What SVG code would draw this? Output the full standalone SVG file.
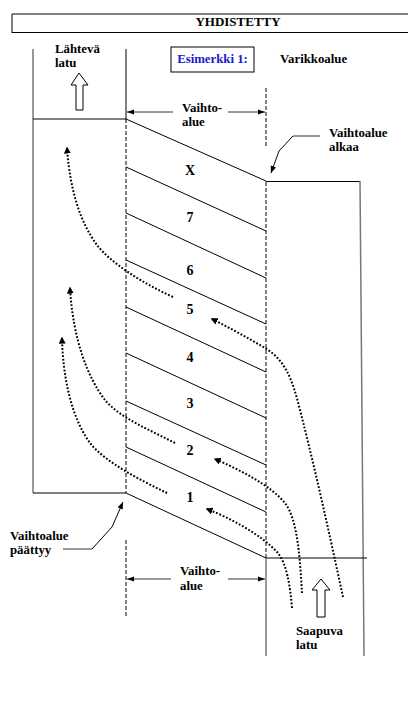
<svg xmlns="http://www.w3.org/2000/svg" width="408" height="714" viewBox="0 0 408 714">
<defs>
<style>
text{font-family:"Liberation Serif","Times New Roman",serif;font-weight:bold;fill:#000;}
.lbl{font-size:12.8px;}
.num{font-size:14px;text-anchor:middle;}
.ln{stroke:#000;stroke-width:1;fill:none;}
.gray{stroke:#777;stroke-width:1.5;fill:none;}
.dash{stroke:#000;stroke-width:1;stroke-dasharray:4 2;fill:none;}
.dot{stroke:#000;stroke-width:2;stroke-dasharray:1.8 1.8;fill:none;marker-end:url(#ah);}
.dim{stroke:#000;stroke-width:0.8;fill:none;}
.open{fill:#fff;stroke:#000;stroke-width:1;}
</style>
<marker id="ah" viewBox="0 0 10 10" refX="8" refY="5" markerWidth="3.5" markerHeight="3.5" orient="auto" markerUnits="strokeWidth">
<path d="M0,0 L10,5 L0,10 Z" fill="#000"/>
</marker>
<marker id="dh" viewBox="0 0 10 10" refX="10" refY="5" markerWidth="8" markerHeight="7" orient="auto" markerUnits="userSpaceOnUse">
<path d="M0,1.5 L10,5 L0,8.5 Z" fill="#000"/>
</marker>
<marker id="lh" viewBox="0 0 10 10" refX="10" refY="5" markerWidth="8" markerHeight="7" orient="auto" markerUnits="userSpaceOnUse">
<path d="M0,1 L10,5 L0,9 Z" fill="#000"/>
</marker>
</defs>

<g id="header">
<path class="ln" d="M12,14 H408"/>
<path class="ln" d="M12,32.5 H408" stroke-width="1.5"/>
<path class="ln" d="M12,14 V33"/>
<text x="238" y="26" font-size="13" text-anchor="middle">YHDISTETTY</text>
</g>

<g id="lahteva-latu">
<path class="gray" d="M33,49 V493"/>
<path class="ln" d="M126,49 V119"/>
<path class="ln" d="M33,119 H126"/>
<path class="ln" d="M33,493 H126"/>
<text class="lbl" x="55" y="53">Lähtevä</text>
<text class="lbl" x="55" y="67">latu</text>
<polygon class="open" points="79,73 88,85 83,85 83,110 76,110 76,85 71,85"/>
</g>

<g id="esimerkki">
<rect x="171" y="47" width="83" height="25" fill="none" stroke="#000" stroke-width="1"/>
<text x="212.5" y="63" font-size="12.8" text-anchor="middle" style="fill:#1a1ad0">Esimerkki 1:</text>
</g>

<g id="varikkoalue">
<text class="lbl" x="280" y="63">Varikkoalue</text>
</g>

<g id="vaihtoalue-borders">
<path class="dash" d="M126,119 V493"/>
<path class="dash" d="M126,540 V618"/>
<path class="dash" d="M266,88 V148"/>
<path class="dash" d="M266,182 V558"/>
</g>

<g id="saapuva-latu">
<path class="ln" d="M266,181.5 H360"/>
<path class="gray" d="M360,181 L364,656"/>
<path class="ln" d="M266,558 H367"/>
<path class="gray" d="M266,558 V656"/>
<polygon class="open" points="321,579 330,590 325,590 325,617 317,617 317,590 312,590"/>
<text class="lbl" x="296" y="635">Saapuva</text>
<text class="lbl" x="296" y="649">latu</text>
</g>

<g id="stalls">
<path class="ln" d="M126,119 L266,181"/>
<path class="ln" d="M126,167 L266,231"/>
<path class="ln" d="M126,213 L266,278"/>
<path class="ln" d="M126,260 L266,324"/>
<path class="ln" d="M126,307 L266,372"/>
<path class="ln" d="M126,353 L266,418"/>
<path class="ln" d="M126,401 L266,465"/>
<path class="ln" d="M126,447 L266,512"/>
<path class="ln" d="M126,493 L266,558"/>
</g>
<g id="stall-X"><text class="num" x="190" y="175">X</text></g>
<g id="stall-7"><text class="num" x="190" y="222">7</text></g>
<g id="stall-6"><text class="num" x="190" y="275">6</text></g>
<g id="stall-5"><text class="num" x="190" y="314">5</text></g>
<g id="stall-4"><text class="num" x="190" y="362">4</text></g>
<g id="stall-3"><text class="num" x="190" y="408">3</text></g>
<g id="stall-2"><text class="num" x="190" y="455">2</text></g>
<g id="stall-1"><text class="num" x="190" y="502">1</text></g>

<g id="dim-top">
<path class="dim" d="M173,112 H127" marker-end="url(#dh)"/>
<path class="dim" d="M228,112 H265" marker-end="url(#dh)"/>
<text class="lbl" x="182" y="112">Vaihto-</text>
<text class="lbl" x="182" y="126">alue</text>
</g>

<g id="dim-bottom">
<path class="dim" d="M171,579 H127" marker-end="url(#dh)"/>
<path class="dim" d="M228,579 H265" marker-end="url(#dh)"/>
<text class="lbl" x="180" y="575">Vaihto-</text>
<text class="lbl" x="180" y="590">alue</text>
</g>

<g id="vaihtoalue-alkaa">
<text class="lbl" x="329" y="137">Vaihtoalue</text>
<text class="lbl" x="329" y="151">alkaa</text>
</g>

<g id="vaihtoalue-paattyy">
<text class="lbl" x="10" y="540">Vaihtoalue</text>
<text class="lbl" x="10" y="554">päättyy</text>
</g>

<g id="connectors">
<path class="gray" d="M320,136 H293"/>
<path class="ln" d="M293,136 L279,151 L271,173" marker-end="url(#lh)"/>
<path class="gray" d="M63,549 H92"/>
<path class="ln" d="M92,549 L112,527 L123,502" marker-end="url(#lh)"/>
<path class="dot" d="M173,297 C140,282 110,262 97,245 C80,222 70,190 67,148"/>
<path class="dot" d="M175,443 C150,430 120,418 105,400 C88,378 73,340 70,288"/>
<path class="dot" d="M167,493 C140,480 105,462 90,443 C72,418 63,380 62,338"/>
<path class="dot" d="M343,597 C335,560 318,480 300,410 C292,378 285,360 265,348 C248,338 230,328 212,319"/>
<path class="dot" d="M302,593 C300,560 298,520 285,503 C270,485 240,470 215,459"/>
<path class="dot" d="M292,608 C290,585 287,565 278,553 C262,535 230,518 207,509"/>
</g>
</svg>
